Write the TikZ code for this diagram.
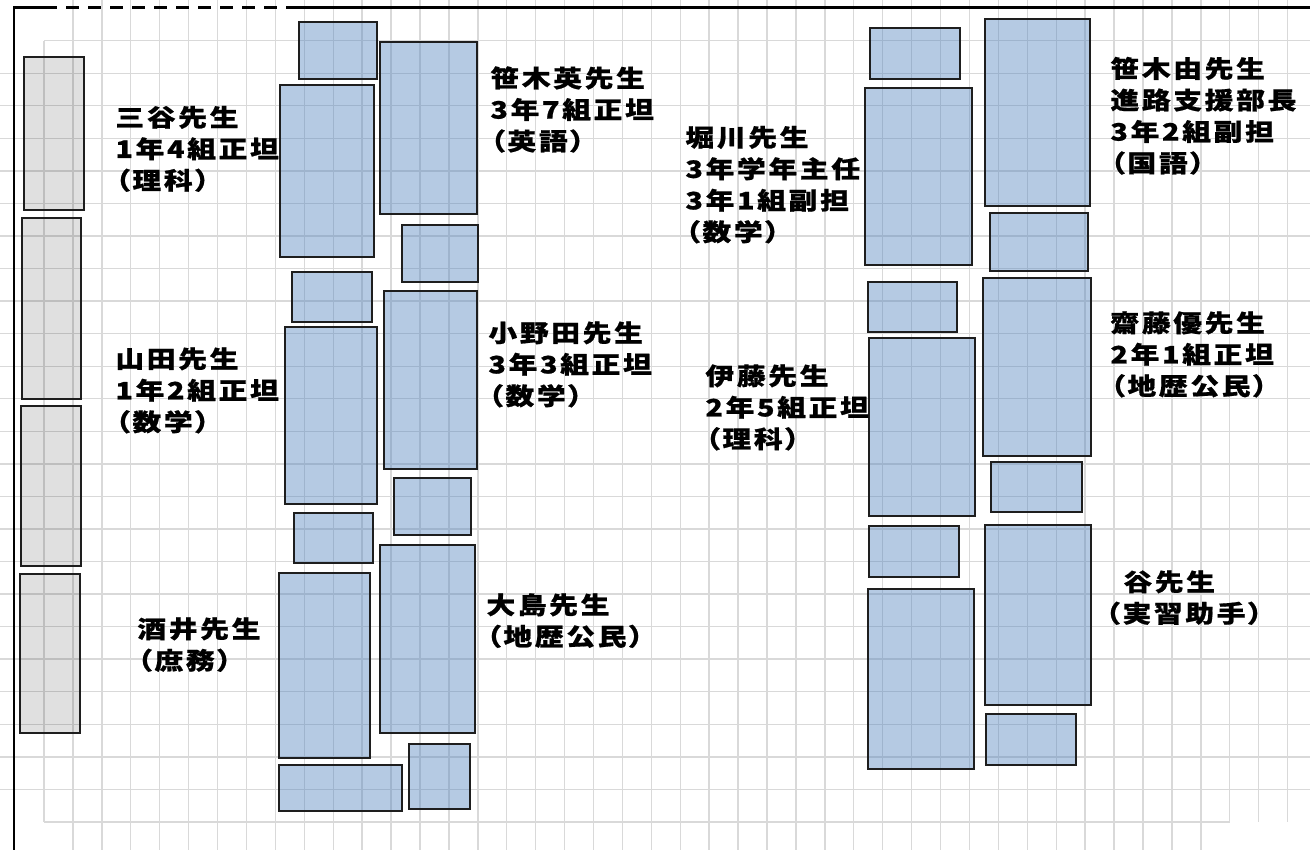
\documentclass[tikz,border=0pt]{standalone}
\usepackage{fontspec}
\newfontfamily\jpfont[FakeStretch=1.2, LetterSpace=11, FakeBold=0.8, RawFeature=+palt]{Noto Sans CJK JP}
\definecolor{gridgray}{RGB}{217,217,217}
\definecolor{deskblue}{RGB}{79,129,189}
\definecolor{deskline}{RGB}{30,30,30}
\begin{document}
\begin{tikzpicture}[x=0.5pt, y=-0.5pt,
  cell/.style={draw=gridgray, line width=0.7pt},
  frame/.style={draw=black, line width=1.3pt},
  desk/.style={draw=deskline, line width=0.75pt, fill=deskblue, fill opacity=0.42},
  shelf/.style={draw=deskline, line width=0.75pt, fill=black, fill opacity=0.12},
  teacher/.style={anchor=north west, inner sep=0pt, align=left,
                  font=\jpfont\bfseries\fontsize{12pt}{15.75pt}\selectfont}
]
  \useasboundingbox[fill=white] (0,0) rectangle (1310,850);
  % sheet grid
  \foreach \k in {1,...,40} \draw[cell] ({44+28.92*\k},0) -- ({44+28.92*\k},850);
  \foreach \k in {41,42,43} \draw[cell] ({44+28.92*\k},0) -- ({44+28.92*\k},822);
  \draw[cell] (44,40.7) -- (44,822);
  \foreach \k in {1,...,23} \draw[cell] (0,{40.7+32.55*\k}) -- (1310,{40.7+32.55*\k});
  \draw[cell] (44,40.7) -- (1310,40.7);
  \draw[cell] (44,822) -- (1229.7,822);
  % frame
  \draw[frame] (14,850) -- (14,7.5) -- (44,7.5);
  \draw[frame, dash pattern=on 6.5pt off 4.5pt] (44,7.5) -- (298,7.5);
  \draw[frame] (298,7.5) -- (1310,7.5);
  % shelves
  \draw[shelf] (24,57)  rectangle (84,210);
  \draw[shelf] (22,218) rectangle (81,399);
  \draw[shelf] (21,406) rectangle (81,566);
  \draw[shelf] (20,574) rectangle (80,733);
  % desks, left block
  \draw[desk] (299,22)  rectangle (377,79);
  \draw[desk] (380,42)  rectangle (477,214);
  \draw[desk] (280,85)  rectangle (374,257);
  \draw[desk] (402,225) rectangle (478,282);
  \draw[desk] (292,272) rectangle (372,322);
  \draw[desk] (384,291) rectangle (477,469);
  \draw[desk] (285,327) rectangle (377,504);
  \draw[desk] (394,478) rectangle (471,535);
  \draw[desk] (294,513) rectangle (373,563);
  \draw[desk] (380,545) rectangle (475,733);
  \draw[desk] (279,573) rectangle (370,758);
  \draw[desk] (279,765) rectangle (402,811);
  \draw[desk] (409,744) rectangle (470,809);
  % desks, right block
  \draw[desk] (870,28)  rectangle (960,79);
  \draw[desk] (985,19)  rectangle (1090,206);
  \draw[desk] (865,88)  rectangle (972,265);
  \draw[desk] (990,213) rectangle (1088,271);
  \draw[desk] (868,282) rectangle (957,332);
  \draw[desk] (983,278) rectangle (1091,456);
  \draw[desk] (869,338) rectangle (975,516);
  \draw[desk] (991,462) rectangle (1082,512);
  \draw[desk] (869,526) rectangle (959,577);
  \draw[desk] (985,525) rectangle (1091,705);
  \draw[desk] (868,589) rectangle (974,769);
  \draw[desk] (986,714) rectangle (1076,765);
  % names
  \node[teacher] (mitani)   at (115,105.5) {三谷先生\\1年4組正坦\\（理科）};
  \node[teacher] (yamada)   at (115,347)   {山田先生\\1年2組正坦\\（数学）};
  \node[teacher] (sakai)    at (137,617)   {酒井先生\\（庶務）};
  \node[teacher] (sasakiE)  at (490,66)    {笹木英先生\\3年7組正坦\\（英語）};
  \node[teacher] (onoda)    at (488,321)   {小野田先生\\3年3組正坦\\（数学）};
  \node[teacher] (oshima)   at (486,593)   {大島先生\\（地歴公民）};
  \node[teacher] (horikawa) at (685,125.5) {堀川先生\\3年学年主任\\3年1組副担\\（数学）};
  \node[teacher] (ito)      at (705,364)   {伊藤先生\\2年5組正坦\\（理科）};
  \node[teacher] (sasakiY)  at (1110,56.5) {笹木由先生\\進路支援部長\\3年2組副担\\（国語）};
  \node[teacher] (saito)    at (1110,311)  {齋藤優先生\\2年1組正坦\\（地歴公民）};
  \node[teacher] (tani)     at (1105,570)  {\hspace*{9pt}谷先生\\（実習助手）};
\end{tikzpicture}
\end{document}
